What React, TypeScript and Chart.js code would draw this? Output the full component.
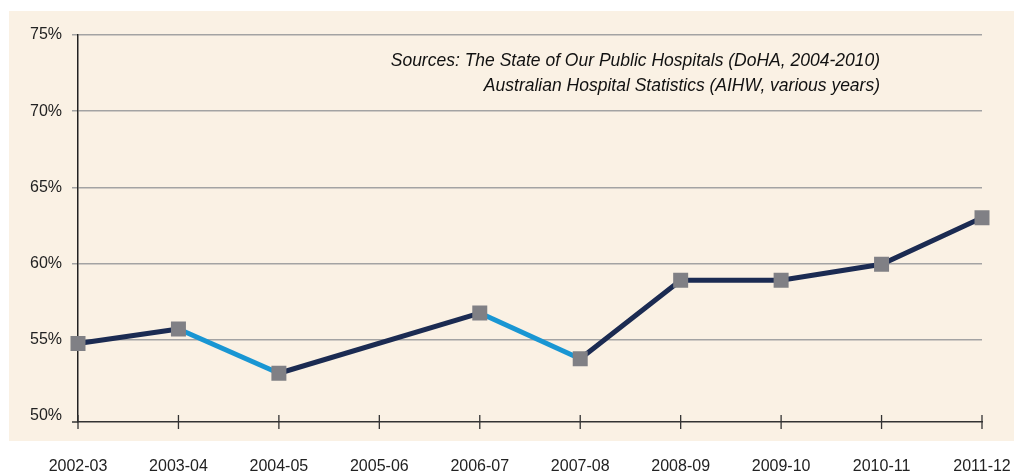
import React, { useEffect, useRef } from "react";
import { Chart, registerables } from "chart.js";

Chart.register(...registerables);

const categories = [
  "2002-03", "2003-04", "2004-05", "2005-06", "2006-07",
  "2007-08", "2008-09", "2009-10", "2010-11", "2011-12",
];
const values: (number | null)[] = [54.75, 55.7, 52.8, null, 56.75, 53.75, 58.9, 58.9, 59.95, 63.0];
const yTicks = [50, 55, 60, 65, 70, 75];
const sourceLines = [
  "Sources: The State of Our Public Hospitals (DoHA, 2004-2010)",
  "Australian Hospital Statistics (AIHW, various years)",
];

const NAVY = "#1b2b52";
const BLUE = "#1996d3";
const MARKER = "#808085";
const CREAM = "#faf1e4";
const FONT = "'Liberation Sans', Arial, sans-serif";

const decor = {
  id: "decor",
  beforeDraw(chart: any) {
    const ctx = chart.ctx;
    ctx.save();
    ctx.fillStyle = CREAM;
    ctx.fillRect(9, 11, 1005, 430);
    ctx.restore();
  },
  afterDraw(chart: any) {
    const ctx = chart.ctx;
    const area = chart.chartArea;
    const xs = chart.scales.x;
    ctx.save();
    ctx.strokeStyle = "#333";
    ctx.lineWidth = 1.5;
    ctx.beginPath();
    ctx.moveTo(area.left - 6, area.bottom);
    ctx.lineTo(area.left, area.bottom);
    ctx.stroke();
    ctx.lineWidth = 1.3;
    categories.forEach((_, i) => {
      const x = xs.getPixelForValue(i);
      ctx.beginPath();
      ctx.moveTo(x, area.bottom - 7);
      ctx.lineTo(x, area.bottom + 7);
      ctx.stroke();
    });
    ctx.fillStyle = "#111";
    ctx.font = "italic 17.5px " + FONT;
    ctx.textAlign = "right";
    ctx.textBaseline = "middle";
    sourceLines.forEach((t, i) => {
      ctx.fillText(t, 880, 61 + i * 25);
    });
    ctx.restore();
  },
};

export default function App() {
  const ref = useRef<HTMLCanvasElement>(null);
  useEffect(() => {
    if (!ref.current) return;
    const chart = new Chart(ref.current, {
      type: "line",
      data: {
        labels: categories,
        datasets: [
          {
            data: values,
            spanGaps: true,
            borderColor: NAVY,
            borderWidth: 5,
            tension: 0,
            pointStyle: "rect",
            pointRadius: 10.6,
            pointBackgroundColor: MARKER,
            pointBorderWidth: 0,
            pointBorderColor: MARKER,
            segment: {
              borderColor: (c: any) => (c.p1.parsed.y < c.p0.parsed.y ? BLUE : NAVY),
            },
          },
        ],
      },
      options: {
        animation: false,
        responsive: false,
        events: [],
        layout: { padding: { top: 35, right: 32, left: 0, bottom: 0 } },
        plugins: { legend: { display: false }, tooltip: { enabled: false } },
        scales: {
          x: {
            type: "category",
            offset: false,
            grid: { display: false },
            border: { display: true, color: "#333", width: 1.5 },
            ticks: {
              autoSkip: false,
              maxRotation: 0,
              padding: 27,
              color: "#222",
              font: { family: FONT, size: 16 },
            },
            afterFit: (s: any) => {
              s.height = 52;
              s.paddingLeft = 0;
              s.paddingRight = 0;
            },
          },
          y: {
            min: 49.6,
            max: 75,
            afterBuildTicks: (s: any) => {
              s.ticks = yTicks.map((v) => ({ value: v }));
            },
            grid: {
              color: (c: any) => (c.tick && c.tick.value === 50 ? "rgba(0,0,0,0)" : "#a3a3a3"),
              lineWidth: 1.5,
              tickLength: 6,
            },
            border: { display: true, color: "#222", width: 1.5 },
            ticks: {
              padding: 10,
              color: "#222",
              font: { family: FONT, size: 16 },
              callback: (v: any) => v + "%",
            },
            afterFit: (s: any) => {
              s.width = 78;
              s.paddingTop = 0;
              s.paddingBottom = 0;
            },
          },
        },
      },
      plugins: [decor],
    });
    return () => chart.destroy();
  }, []);
  return (
    <div style={{ position: "absolute", left: 0, top: 0, width: 1014, height: 474 }}>
      <canvas ref={ref} width={1014} height={474} style={{ display: "block" }} />
    </div>
  );
}
